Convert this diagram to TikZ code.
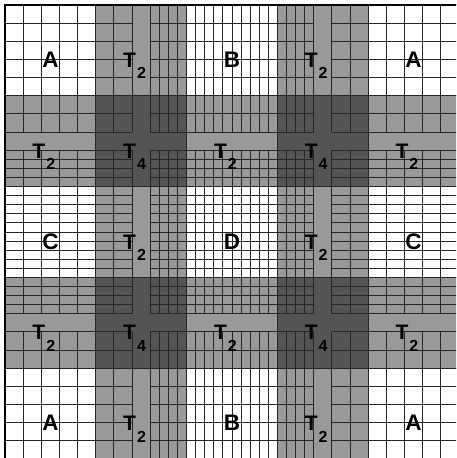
\documentclass[tikz,border=0pt]{standalone}
\usepackage{fontspec}
\setmainfont{Liberation Sans}
\usepackage{tikz}
\definecolor{tonetwo}{gray}{0.6}
\definecolor{tonefour}{gray}{0.33}
\definecolor{meshgray}{gray}{0.15}
% line positions of the mesh (coarse cell = 1)
\newcommand{\meshpos}{0,1,2,3,4,5,6,7,8,8.5,9,9.5,10,10.5,11,11.5,12,12.5,13,13.5,14,14.5,15,15.5,16,16.5,17,18,19,20,21,22,23,24,25}
\newcommand{\tlab}[1]{T\kern1pt\raisebox{-11.5pt}{\fontsize{16}{16}\selectfont #1}}

\begin{document}
\begin{tikzpicture}[x=18.16pt,y=-18.16pt,
  meshline/.style={draw=meshgray,line width=1pt},
  blockline/.style={draw=black!85,line width=1.25pt},
  every node/.style={font=\bfseries\fontsize{21}{21}\selectfont,inner sep=0pt},
  letterlab/.style={anchor=base,font=\bfseries\fontsize{22.5}{22.5}\selectfont}]
\clip (-0.2753,-0.2753) rectangle (24.835,24.945);
% ==================== FILLS ====================
\foreach \i/\j in {1/0,3/0,0/1,2/1,4/1,1/2,3/2,0/3,2/3,4/3,1/4,3/4}
  \fill[tonetwo] (5*\i,5*\j) rectangle ++(5,5);
\foreach \i/\j in {1/1,3/1,1/3,3/3}
  \fill[tonefour] (5*\i,5*\j) rectangle ++(5,5);
% ==================== MESH LINES ====================
\foreach \p in \meshpos
  \foreach \a/\b in {0/7,8/17,18/25} {
    \draw[meshline] (\p,\a) -- (\p,\b);
    \draw[meshline] (\a,\p) -- (\b,\p);
  }
% block borders
\foreach \p in {5,10,15,20} {
  \draw[blockline] (\p,0) -- (\p,25);
  \draw[blockline] (0,\p) -- (25,\p);
}
\draw[line width=2pt] (0,0) rectangle (25,25);
% ==================== LABELS ====================
\foreach \i/\j/\t [count=\k] in {0/0/A,2/0/B,4/0/A,0/2/C,2/2/D,4/2/C,0/4/A,2/4/B,4/4/A}
  \node[letterlab] (blk\k) at (5*\i+2.5,5*\j+3.44) {\t};
\foreach \i/\j/\s [count=\k] in {1/0/2,3/0/2,0/1/2,2/1/2,4/1/2,1/2/2,3/2/2,0/3/2,2/3/2,4/3/2,1/4/2,3/4/2,1/1/4,3/1/4,1/3/4,3/3/4}
  \node[anchor=base west] (tee\k) at (5*\i+1.5,5*\j+3.44) {\tlab{\s}};
\end{tikzpicture}
\end{document}
